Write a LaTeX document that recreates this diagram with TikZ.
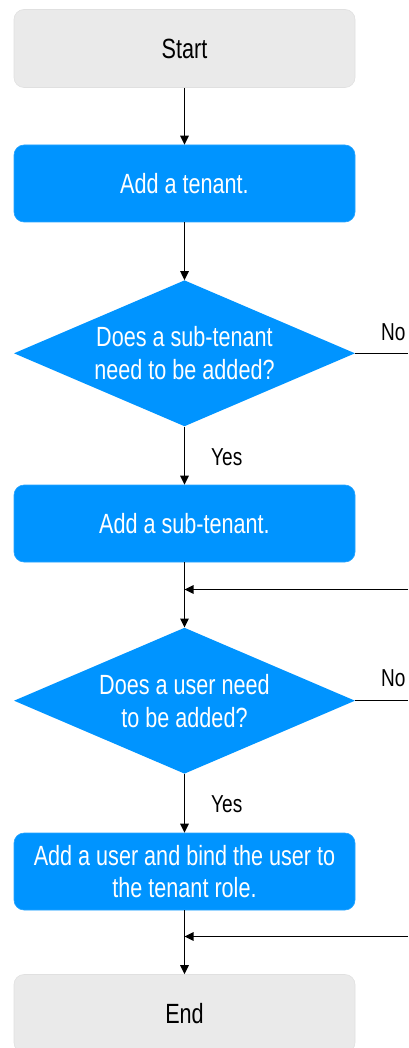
\documentclass[tikz,border=0pt]{standalone}
\usepackage{fontspec}
\setmainfont{Liberation Sans}[FakeStretch=0.777]
\usetikzlibrary{shapes.geometric,arrows.meta,calc}
\definecolor{flowblue}{HTML}{0094FF}
\definecolor{flowgray}{HTML}{EAEAEA}
\begin{document}
\begin{tikzpicture}[x=1pt,y=-1pt,
  termbox/.style={rectangle,rounded corners=10pt,fill=flowgray,draw=black!12,line width=0.6pt,
    minimum width=341pt,minimum height=78pt,inner sep=0pt,
    font=\fontsize{27.8}{33}\selectfont,text=black,align=center},
  procbox/.style={rectangle,rounded corners=10pt,fill=flowblue,draw=flowblue!85!white,line width=0.6pt,
    minimum width=341pt,minimum height=77pt,inner sep=0pt,
    font=\fontsize{27.8}{32.5}\selectfont,text=white,align=center},
  decbox/.style={diamond,fill=flowblue,draw=none,shape aspect=2.34,
    minimum width=341pt,minimum height=146pt,inner sep=0pt,
    font=\fontsize{27.8}{33}\selectfont,text=white,align=center},
  lbl/.style={font=\fontsize{24.5}{28}\selectfont,text=black,inner sep=0pt},
  conn/.style={line width=1.4pt,draw=black},
  arr/.style={conn,-{Triangle[length=9pt,width=8.5pt]}}
]
\useasboundingbox (0,0) rectangle (408,1048);
\node[termbox] (start) at (184.5,48.5) {Start};
\node[procbox] (tenant) at (184.5,183.5) {Add a tenant.};
\node[decbox] (d1) at (184.5,353.3) {Does a sub-tenant\\need to be added?};
\node[procbox] (sub) at (184.5,523.5) {Add a sub-tenant.};
\node[decbox] (d2) at (184.5,700.7) {Does a user need\\to be added?};
\node[procbox] (user) at (184.5,871.5) {Add a user and bind the user to\\the tenant role.};
\node[termbox] (end) at (184.5,1013.5) {End};

\coordinate (n1) at (408,353.3);
\coordinate (n2) at (408,700.7);
\coordinate (m1) at (408,589.5);
\coordinate (m2) at (408,936.5);
\coordinate (j1) at (sub.south |- m1);
\coordinate (j2) at (user.south |- m2);

\draw[arr] (start) -- (tenant);
\draw[arr] (tenant) -- (d1);
\draw[arr] (d1) -- (sub);
\draw[arr] (sub) -- (d2);
\draw[arr] (d2) -- (user);
\draw[arr] (user) -- (end);
\draw[conn] (d1.east) -- (n1);
\draw[conn] (d2.east) -- (n2);
\draw[arr] (m1) -- (j1);
\draw[arr] (m2) -- (j2);

\node[lbl,anchor=base west] (no1) at (381,340) {No};
\node[lbl,anchor=base west] (no2) at (381,686.7) {No};
\node[lbl,anchor=base west] (yes1) at (211,465) {Yes};
\node[lbl,anchor=base west] (yes2) at (211,812.7) {Yes};
\end{tikzpicture}
\end{document}
